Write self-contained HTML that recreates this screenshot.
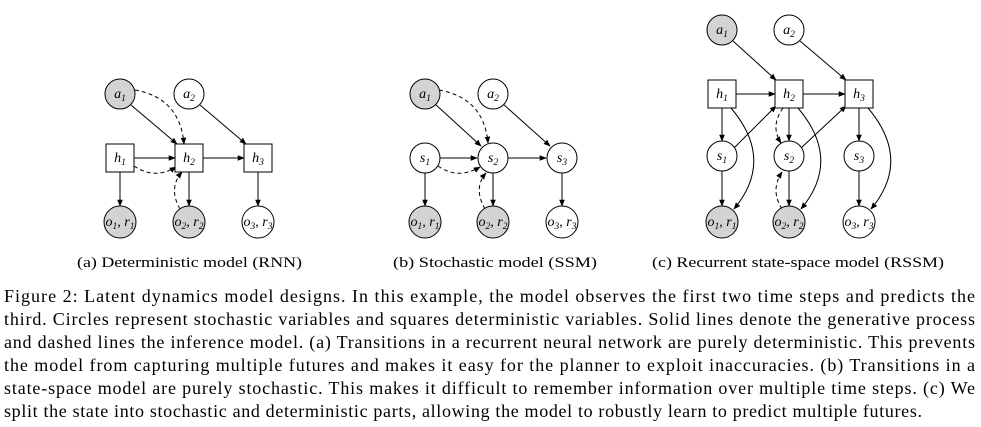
<!DOCTYPE html>
<html><head><meta charset="utf-8"><style>
html,body{margin:0;padding:0;background:#fff;}
svg{display:block;}
.l{font-family:"Liberation Serif",serif;font-style:italic;font-size:14px;fill:#000;}
.s{font-size:9.5px;}
.cap{font-family:"Liberation Serif",serif;font-size:15px;fill:#000;}
.p{font-family:"Liberation Serif",serif;font-size:18px;fill:#000;}
</style></head><body>
<svg width="981" height="427" viewBox="0 0 981 427" xmlns="http://www.w3.org/2000/svg">
<defs>
<marker id="ar" viewBox="0 0 10 10" refX="9" refY="5" markerWidth="7" markerHeight="7" orient="auto" markerUnits="userSpaceOnUse"><path d="M0,1 L10,5 L0,9 z" fill="#000"/></marker>
</defs>
<g stroke="#000" stroke-width="1" fill="none">
<!-- Panel a -->
<line x1="131" y1="105" x2="177" y2="144" marker-end="url(#ar)"/>
<line x1="200" y1="105" x2="246" y2="144" marker-end="url(#ar)"/>
<line x1="134" y1="158" x2="175" y2="158" marker-end="url(#ar)"/>
<line x1="203" y1="158" x2="244" y2="158" marker-end="url(#ar)"/>
<line x1="120" y1="172" x2="120" y2="206" marker-end="url(#ar)"/>
<line x1="189" y1="172" x2="189" y2="206" marker-end="url(#ar)"/>
<line x1="258" y1="172" x2="258" y2="206" marker-end="url(#ar)"/>
<path d="M135,90 Q180,98 184,144" stroke-dasharray="4,3" marker-end="url(#ar)"/>
<path d="M134,166 Q155,180 176,167" stroke-dasharray="4,3" marker-end="url(#ar)"/>
<path d="M180,209 Q168,188 182,172" stroke-dasharray="4,3" marker-end="url(#ar)"/>
<!-- Panel b -->
<line x1="435" y1="104" x2="481" y2="146" marker-end="url(#ar)"/>
<line x1="503" y1="104" x2="550" y2="146" marker-end="url(#ar)"/>
<line x1="440" y1="158" x2="477" y2="158" marker-end="url(#ar)"/>
<line x1="508" y1="158" x2="546" y2="158" marker-end="url(#ar)"/>
<line x1="425" y1="173" x2="425" y2="206" marker-end="url(#ar)"/>
<line x1="493" y1="173" x2="493" y2="206" marker-end="url(#ar)"/>
<line x1="562" y1="173" x2="562" y2="206" marker-end="url(#ar)"/>
<path d="M439,90 Q484,98 488,143" stroke-dasharray="4,3" marker-end="url(#ar)"/>
<path d="M438,166 Q458,180 480,167" stroke-dasharray="4,3" marker-end="url(#ar)"/>
<path d="M485,209 Q473,188 486,173" stroke-dasharray="4,3" marker-end="url(#ar)"/>
<!-- Panel c -->
<line x1="733" y1="41" x2="776" y2="80" marker-end="url(#ar)"/>
<line x1="800" y1="41" x2="846" y2="80" marker-end="url(#ar)"/>
<line x1="736" y1="94" x2="775" y2="94" marker-end="url(#ar)"/>
<line x1="803" y1="94" x2="845" y2="94" marker-end="url(#ar)"/>
<line x1="722" y1="108" x2="722" y2="141" marker-end="url(#ar)"/>
<line x1="789" y1="108" x2="789" y2="141" marker-end="url(#ar)"/>
<line x1="859" y1="108" x2="859" y2="141" marker-end="url(#ar)"/>
<line x1="722" y1="171" x2="722" y2="206" marker-end="url(#ar)"/>
<line x1="789" y1="171" x2="789" y2="206" marker-end="url(#ar)"/>
<line x1="859" y1="171" x2="859" y2="206" marker-end="url(#ar)"/>
<line x1="734" y1="148" x2="776" y2="106" marker-end="url(#ar)"/>
<line x1="801" y1="148" x2="846" y2="106" marker-end="url(#ar)"/>
<path d="M731,108 Q775,160 734,209" marker-end="url(#ar)"/>
<path d="M798,108 Q842,160 801,209" marker-end="url(#ar)"/>
<path d="M868,108 Q912,160 871,209" marker-end="url(#ar)"/>
<path d="M783,108 Q770,126 781,143" stroke-dasharray="4,3" marker-end="url(#ar)"/>
<path d="M782,209 Q770,190 782,172" stroke-dasharray="4,3" marker-end="url(#ar)"/>
</g>
<g stroke="#000" stroke-width="1">
<!-- a nodes -->
<circle cx="120" cy="94" r="15" fill="#d3d3d3"/><circle cx="189" cy="94" r="15" fill="#fff"/>
<rect x="106" y="144" width="28" height="28" fill="#fff"/><rect x="175" y="144" width="28" height="28" fill="#fff"/><rect x="244" y="144" width="28" height="28" fill="#fff"/>
<circle cx="120" cy="222" r="16" fill="#d3d3d3"/><circle cx="189" cy="222" r="16" fill="#d3d3d3"/><circle cx="258" cy="222" r="16" fill="#fff"/>
<!-- b nodes -->
<circle cx="425" cy="94" r="15" fill="#d3d3d3"/><circle cx="493" cy="94" r="15" fill="#fff"/>
<circle cx="425" cy="158" r="15" fill="#fff"/><circle cx="493" cy="158" r="15" fill="#fff"/><circle cx="562" cy="158" r="15" fill="#fff"/>
<circle cx="425" cy="222" r="16" fill="#d3d3d3"/><circle cx="493" cy="222" r="16" fill="#d3d3d3"/><circle cx="562" cy="222" r="16" fill="#fff"/>
<!-- c nodes -->
<circle cx="722" cy="30" r="15" fill="#d3d3d3"/><circle cx="789" cy="30" r="15" fill="#fff"/>
<rect x="708" y="80" width="28" height="28" fill="#fff"/><rect x="775" y="80" width="28" height="28" fill="#fff"/><rect x="845" y="80" width="28" height="28" fill="#fff"/>
<circle cx="722" cy="156" r="15" fill="#fff"/><circle cx="789" cy="156" r="15" fill="#fff"/><circle cx="859" cy="156" r="15" fill="#fff"/>
<circle cx="722" cy="222" r="16" fill="#d3d3d3"/><circle cx="789" cy="222" r="16" fill="#d3d3d3"/><circle cx="859" cy="222" r="16" fill="#fff"/>
</g>
<g class="l" text-anchor="middle">
<text x="120" y="98">a<tspan class="s" dy="3">1</tspan></text>
<text x="189" y="98">a<tspan class="s" dy="3">2</tspan></text>
<text x="120" y="162">h<tspan class="s" dy="3">1</tspan></text>
<text x="189" y="162">h<tspan class="s" dy="3">2</tspan></text>
<text x="258" y="162">h<tspan class="s" dy="3">3</tspan></text>
<text x="120" y="226">o<tspan class="s" dy="3">1</tspan><tspan dy="-3">, r</tspan><tspan class="s" dy="3">1</tspan></text>
<text x="189" y="226">o<tspan class="s" dy="3">2</tspan><tspan dy="-3">, r</tspan><tspan class="s" dy="3">2</tspan></text>
<text x="258" y="226">o<tspan class="s" dy="3">3</tspan><tspan dy="-3">, r</tspan><tspan class="s" dy="3">3</tspan></text>

<text x="425" y="98">a<tspan class="s" dy="3">1</tspan></text>
<text x="493" y="98">a<tspan class="s" dy="3">2</tspan></text>
<text x="425" y="162">s<tspan class="s" dy="3">1</tspan></text>
<text x="493" y="162">s<tspan class="s" dy="3">2</tspan></text>
<text x="562" y="162">s<tspan class="s" dy="3">3</tspan></text>
<text x="425" y="226">o<tspan class="s" dy="3">1</tspan><tspan dy="-3">, r</tspan><tspan class="s" dy="3">1</tspan></text>
<text x="493" y="226">o<tspan class="s" dy="3">2</tspan><tspan dy="-3">, r</tspan><tspan class="s" dy="3">2</tspan></text>
<text x="562" y="226">o<tspan class="s" dy="3">3</tspan><tspan dy="-3">, r</tspan><tspan class="s" dy="3">3</tspan></text>

<text x="722" y="34">a<tspan class="s" dy="3">1</tspan></text>
<text x="789" y="34">a<tspan class="s" dy="3">2</tspan></text>
<text x="722" y="98">h<tspan class="s" dy="3">1</tspan></text>
<text x="789" y="98">h<tspan class="s" dy="3">2</tspan></text>
<text x="859" y="98">h<tspan class="s" dy="3">3</tspan></text>
<text x="722" y="160">s<tspan class="s" dy="3">1</tspan></text>
<text x="789" y="160">s<tspan class="s" dy="3">2</tspan></text>
<text x="859" y="160">s<tspan class="s" dy="3">3</tspan></text>
<text x="722" y="226">o<tspan class="s" dy="3">1</tspan><tspan dy="-3">, r</tspan><tspan class="s" dy="3">1</tspan></text>
<text x="789" y="226">o<tspan class="s" dy="3">2</tspan><tspan dy="-3">, r</tspan><tspan class="s" dy="3">2</tspan></text>
<text x="859" y="226">o<tspan class="s" dy="3">3</tspan><tspan dy="-3">, r</tspan><tspan class="s" dy="3">3</tspan></text>
</g>
<text class="cap" x="77" y="267" textLength="225" lengthAdjust="spacingAndGlyphs">(a) Deterministic model (RNN)</text>
<text class="cap" x="393" y="267" textLength="204" lengthAdjust="spacingAndGlyphs">(b) Stochastic model (SSM)</text>
<text class="cap" x="652" y="267" textLength="292" lengthAdjust="spacingAndGlyphs">(c) Recurrent state-space model (RSSM)</text>
<text class="p" x="4" y="302" textLength="971" lengthAdjust="spacing">Figure 2: Latent dynamics model designs. In this example, the model observes the first two time steps and predicts the</text>
<text class="p" x="4" y="325" textLength="971" lengthAdjust="spacing">third. Circles represent stochastic variables and squares deterministic variables. Solid lines denote the generative process</text>
<text class="p" x="4" y="348" textLength="971" lengthAdjust="spacing">and dashed lines the inference model. (a) Transitions in a recurrent neural network are purely deterministic. This prevents</text>
<text class="p" x="4" y="371" textLength="971" lengthAdjust="spacing">the model from capturing multiple futures and makes it easy for the planner to exploit inaccuracies. (b) Transitions in a</text>
<text class="p" x="4" y="394" textLength="971" lengthAdjust="spacing">state-space model are purely stochastic. This makes it difficult to remember information over multiple time steps. (c) We</text>
<text class="p" x="4" y="417" textLength="918" lengthAdjust="spacing">split the state into stochastic and deterministic parts, allowing the model to robustly learn to predict multiple futures.</text>
</svg>
</body></html>
